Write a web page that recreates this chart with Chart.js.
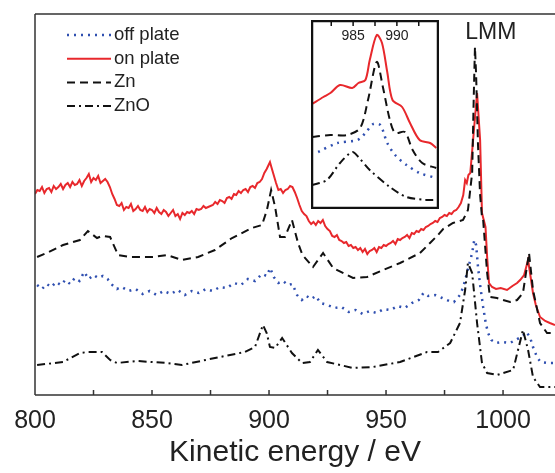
<!DOCTYPE html>
<html>
<head>
<meta charset="utf-8">
<script src="https://cdn.jsdelivr.net/npm/chart.js@4.4.0/dist/chart.umd.min.js"></script>
<style>
html, body { margin: 0; padding: 0; background: #fff; overflow: hidden; }
#wrap { position: relative; width: 555px; height: 473px; }
#insetBox { position: absolute; left: 311px; top: 20px; width: 128px; height: 189px; background: #fff; }
</style>
</head>
<body>
<div id="wrap">
  <canvas id="myChart" width="555" height="473"></canvas>
  <div id="insetBox"><canvas id="insetChart" width="128" height="189"></canvas></div>
</div>
<script>
// main spectrum, kinetic energy (eV) vs intensity (arb. units, offset)
const offPlateE = [800.9,803,805,807,809,811,813,815,817,819,821,823,825,827,829,831,833,835,837,840,843,846,849,852,855,858,861,864,867,870,873,876,879,882,885,888,891,894,897,899,900.5,902,904,906,908,910,912,914,916,918,920,922,925,928,931,934,937,940,943,946,949,952,955,958,961,964,966,968,971,974,977,979,981.6,983,984.6,986,986.8,987.7,988.5,989.3,990.2,991.5,992.6,993.6,995,997,1000,1003,1006,1008,1010,1011.5,1012.8,1014.5,1016,1019,1022.2];
const offPlateI = [110,106,111,108,113,110,115,111,117,114,123,116,120,117,119,116,110,106,108,104,106,101,104,100,104,101,105,100,104,102,106,104,108,107,112,110,116,114,121,119,127,118,112,114,110,111,100,95,99,96,99,92,90,87,88,83,85,81,84,82,86,85,89,87,92,95,102,99,100,97,94,93,100,108,122,135,142,155,150,128,110,88,72,62,55,52,53,52,56,58,63,58,48,38,33,32,32];

const onPlateE = [800,801,802,803,804,805,806,807,808,809,810,811,812,813,814,815,816,817,818,819,820,821,822,823,824,825,826,827,828,829,830,831,832,833,834,835,836,837,838,839,840,841,842,843,844,845,846,847,848,849,850,851,852,853,854,855,856,857,858,859,860,861,862,863,864,865,866,867,868,869,870,871,872,873,874,876,877,878,879,880,881,882,883,884,885,886,887,888,889,890,891,892,893,894,895,896,897,898,899,900.4,901,902,903,904,905,906,907,908,909,910,911,912,913,914,915,916,917,918,919,920,921,922,923,924,925,926,927,928,929,930,931,932,933,934,935,936,937,938,939,940,941,942,943,944,945,946,947,948,949,950,951,952,953,954,955,956,957,958,959,960,961,962,963,964,965,966,967,968,969,970,971,972,973,974,975,976,977,978,979,980,981,982,983,983.8,984.5,985.2,986,987.2,988.9,990.2,991,992.5,993.2,994,995.3,997,999,1001.7,1004,1006,1007.3,1009,1010.7,1012.8,1014,1015.8,1018,1020,1022.2];
const onPlateI = [201,205,204,208,202,206,207,203,209,206,208,211,206,210,212,208,213,210,211,215,209,214,217,221,213,217,215,219,212,214,216,213,208,201,196,190,189,192,185,188,187,191,184,186,189,185,184,188,183,186,185,182,187,183,181,185,183,179,182,185,179,181,176,182,180,183,182,184,181,186,185,186,189,187,188,190,193,191,195,194,192,197,198,196,201,200,204,202,205,206,203,208,209,207,212,213,216,222,226,233,228,220,212,205,206,202,205,206,209,208,203,197,190,184,181,179,174,171,173,170,174,172,175,169,166,164,159,158,160,155,154,152,153,149,150,147,148,145,147,143,146,141,144,145,147,143,148,147,150,149,151,152,154,151,156,155,157,158,160,157,162,161,164,163,166,165,168,169,171,172,174,173,177,178,180,179,182,181,184,185,188,192,200,215,212,220,222,255,302,255,182,168,138,112,108,106,107,105,109,112,115,120,135,102,90,78,74,72,70];

const znE = [800.9,805,812,819.2,822.6,826.5,828.6,832.1,835.5,840.6,850.4,856.4,862.8,869.7,876.9,884.2,892.7,897,899.1,900.9,902.6,904.7,906.8,909.8,912.4,914.3,918.8,923.1,927.4,935.9,941.9,948.7,956,964.5,968.8,972.2,974.4,978.6,982.9,985,986.8,987.5,988,988.5,989.3,990.2,991,991.5,993.2,994.4,997.4,1000,1003,1006,1008.5,1011.1,1012.8,1015.8,1018.8,1022.2];
const znI = [138,142,150,155,164,157,159,158,140,138,138,140,135,138,145,157,167,170,185,205,188,158,158,175,152,140,128,142,127,117,118,125,132,142,152,160,166,172,175,185,222,300,348,320,250,200,178,175,122,98,97,95,93,95,102,142,105,72,62,62];

const znoE = [800.9,812,819.2,822.4,828.6,832.1,835,843.6,856.4,862.8,876.9,889.7,894,897.4,899,900.4,902.6,905.6,909.8,914.1,917.5,920.9,924.8,935.9,944.4,956,967.5,972.2,977.4,981.6,983.8,985,986.8,988.9,991,993.2,997.4,1004.3,1006.4,1008.5,1010.7,1012.8,1015.8,1022.2];
const znoI = [30,33,42,43,43,35,32,34,32,30,37,43,48,70,62,48,47,57,42,32,33,45,33,27,28,33,43,43,52,72,105,132,122,72,32,22,20,25,45,65,45,18,8,8];

const xTickValues = [800, 850, 900, 950, 1000];
const xMinorTicks = [800, 825, 850, 875, 900, 925, 950, 975, 1000];

// inset, zoom on the LMM line
const inOnE = [980.3,981.6,982.4,983.5,984.9,985.6,986.4,986.9,987.7,988.3,988.9,989.5,990.6,991.5,992.6,993.8,994.5];
const inOnI = [104,111,115,123,120,125,128,148,173,165,136,108,101,85,68,65,60];
const inZnE = [980.3,982.4,984.3,985.8,986.7,987.7,988.4,989.2,989.8,990.9,991.8,992.9,994.5];
const inZnI = [71,73,73,80,108,146,121,88,75,76,58,45,40];
const inOffE = [981.0,983.2,985.5,986.4,987.3,988.1,988.9,989.8,991.1,992.6,994.5];
const inOffI = [56,65,68,75,84,83,65,53,43,35,30];
const inZnoE = [980.3,982.0,983.5,984.9,985.6,986.9,989.2,991.1,993.4,994.5];
const inZnoI = [23,28,45,56,51,38,21,11,8,8];
const insetTicks = [982.5, 985, 987.5, 990, 992.5];
const insetLabels = [985, 990];

const FONT = "'Liberation Sans', Arial, sans-serif";
const RED = '#e8282c';
const BLUE = '#2f4fb0';
const BLACK = '#111';

function pts(e, v) {
    return e.map((x, i) => ({ x: x, y: v[i] }));
}

function seriesList(off, on, zn, zno) {
    return [
        { label: 'off plate', data: off, borderColor: BLUE, borderWidth: 2.5, borderDash: [2, 5], order: 2 },
        { label: 'on plate', data: on, borderColor: RED, borderWidth: 2, borderDash: [], order: 3 },
        { label: 'Zn', data: zn, borderColor: BLACK, borderWidth: 2, borderDash: [8, 5], order: 0 },
        { label: 'ZnO', data: zno, borderColor: BLACK, borderWidth: 2, borderDash: [8, 4, 2, 4], order: 1 },
    ];
}

const framePlugin = {
    id: 'frame',
    afterDraw(chart) {
        const ctx = chart.ctx;
        const a = chart.chartArea;
        const xs = chart.scales.x;
        ctx.save();
        ctx.strokeStyle = '#333';
        ctx.lineWidth = 1.5;
        ctx.beginPath();
        ctx.moveTo(a.left, a.top); ctx.lineTo(a.right, a.top);
        ctx.moveTo(a.left, a.top); ctx.lineTo(a.left, a.bottom);
        ctx.moveTo(a.left, a.bottom); ctx.lineTo(a.right, a.bottom);
        // inward ticks
        xMinorTicks.forEach(v => {
            const px = xs.getPixelForValue(v);
            ctx.moveTo(px, a.bottom); ctx.lineTo(px, a.bottom - 5);
        });
        ctx.stroke();

        // legend
        ctx.font = '18.5px ' + FONT;
        ctx.textBaseline = 'middle';
        chart.data.datasets.forEach((ds, i) => {
            const y = 35 + i * 23.7;
            ctx.beginPath();
            ctx.strokeStyle = ds.borderColor;
            ctx.lineWidth = ds.borderWidth;
            ctx.setLineDash(ds.borderDash);
            ctx.moveTo(67, y); ctx.lineTo(111, y);
            ctx.stroke();
            ctx.setLineDash([]);
            ctx.fillStyle = '#222';
            ctx.fillText(ds.label, 114, y);
        });

        // peak label
        ctx.font = '23px ' + FONT;
        ctx.textAlign = 'center';
        ctx.fillStyle = '#222';
        ctx.fillText('LMM', xs.getPixelForValue(994.8), 33);
        ctx.restore();
    }
};

const insetPlugin = {
    id: 'insetFrame',
    afterDraw(chart) {
        const ctx = chart.ctx;
        const a = chart.chartArea;
        const xs = chart.scales.x;
        ctx.save();
        ctx.strokeStyle = '#111';
        ctx.lineWidth = 1.5;
        ctx.beginPath();
        insetTicks.forEach(v => {
            const px = xs.getPixelForValue(v);
            ctx.moveTo(px, a.top); ctx.lineTo(px, a.top + 5);
        });
        ctx.stroke();
        ctx.lineWidth = 2.5;
        ctx.strokeRect(a.left, a.top, a.right - a.left, a.bottom - a.top);
        ctx.font = '14px ' + FONT;
        ctx.textAlign = 'center';
        ctx.textBaseline = 'middle';
        ctx.fillStyle = '#222';
        insetLabels.forEach(v => ctx.fillText(String(v), xs.getPixelForValue(v), a.top + 15));
        ctx.restore();
    }
};

const mainCtx = document.getElementById('myChart').getContext('2d');
new Chart(mainCtx, {
    type: 'line',
    data: { datasets: seriesList(pts(offPlateE, offPlateI), pts(onPlateE, onPlateI), pts(znE, znI), pts(znoE, znoI)) },
    options: {
        responsive: false,
        animation: false,
        elements: { point: { radius: 0 }, line: { tension: 0, fill: false } },
        layout: { padding: { left: 35, top: 14, right: 0, bottom: 0 } },
        plugins: { legend: { display: false }, tooltip: { enabled: false } },
        scales: {
            x: {
                type: 'linear', min: 800, max: 1022.2,
                grid: { display: false, drawTicks: false },
                border: { display: false },
                afterBuildTicks: s => { s.ticks = xTickValues.map(v => ({ value: v })); },
                afterFit: s => { s.height = 78; },
                ticks: {
                    font: { family: FONT, size: 25 }, color: '#222', padding: 11, maxRotation: 0, autoSkip: false,
                    callback: value => String(value)
                },
                title: { display: true, text: 'Kinetic energy / eV', font: { family: FONT, size: 30 }, color: '#222', padding: { top: 0, bottom: 2 } }
            },
            y: { display: false, min: 0, max: 381 }
        }
    },
    plugins: [framePlugin]
});

const insetCtx = document.getElementById('insetChart').getContext('2d');
new Chart(insetCtx, {
    type: 'line',
    data: { datasets: seriesList(pts(inOffE, inOffI), pts(inOnE, inOnI), pts(inZnE, inZnI), pts(inZnoE, inZnoI)) },
    options: {
        responsive: false,
        animation: false,
        elements: { point: { radius: 0 }, line: { tension: 0.3, fill: false } },
        layout: { padding: { left: 1, top: 1, right: 1, bottom: 1 } },
        plugins: { legend: { display: false }, tooltip: { enabled: false } },
        scales: {
            x: { type: 'linear', display: false, min: 980.3, max: 994.7 },
            y: { display: false, min: 0, max: 187 }
        }
    },
    plugins: [insetPlugin]
});
</script>
</body>
</html>
